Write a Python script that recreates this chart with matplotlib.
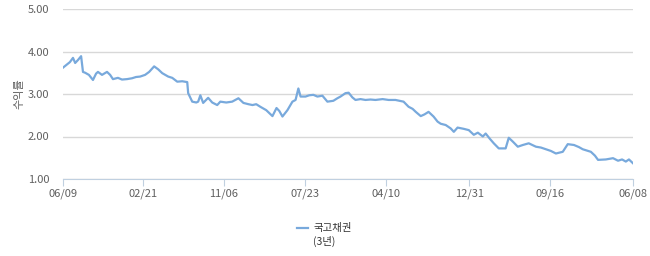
import matplotlib
matplotlib.use("Agg")
import matplotlib.pyplot as plt
import matplotlib.dates as mdates
from matplotlib.lines import Line2D
import pandas as pd

plt.rcParams["font.family"] = ["Noto Sans CJK KR", "DejaVu Sans"]

# 국고채권(3년) yield: days since start and value
start = "2011-06-09"
days = [0, 10, 22, 32, 39, 48, 58, 64, 71, 83, 96, 106, 112, 125, 141, 151,
        160, 176, 189, 205, 221, 234, 247, 263, 276, 286, 292, 305, 318, 337,
        350, 366, 382, 398, 401, 414, 427, 433, 440, 449, 465, 478, 494, 504,
        523, 542, 562, 578, 594, 607, 619, 632, 651, 671, 684, 693, 703, 719,
        735, 745, 754, 761, 777, 789, 802, 815, 831, 847, 866, 879, 889, 905,
        915, 927, 937, 953, 969, 985, 1001, 1024, 1043, 1065, 1091, 1107, 1120,
        1130, 1146, 1158, 1171, 1187, 1200, 1210, 1226, 1242, 1252, 1264, 1284,
        1300, 1316, 1329, 1345, 1354, 1367, 1380, 1396, 1418, 1428, 1441, 1457,
        1473, 1492, 1515, 1531, 1547, 1563, 1579, 1601, 1617, 1637, 1653, 1665,
        1691, 1704, 1714, 1739, 1762, 1778, 1791, 1803, 1813, 1826]
yields = [3.62, 3.68, 3.75, 3.85, 3.73, 3.80, 3.89, 3.52, 3.50, 3.45, 3.33,
          3.48, 3.52, 3.45, 3.52, 3.45, 3.35, 3.38, 3.34, 3.35, 3.37, 3.40,
          3.41, 3.45, 3.52, 3.60, 3.65, 3.58, 3.49, 3.41, 3.38, 3.29, 3.30,
          3.28, 3.02, 2.82, 2.80, 2.82, 2.97, 2.79, 2.91, 2.80, 2.74, 2.82,
          2.80, 2.82, 2.90, 2.79, 2.76, 2.74, 2.76, 2.70, 2.62, 2.48, 2.67,
          2.60, 2.47, 2.62, 2.82, 2.86, 3.13, 2.94, 2.94, 2.97, 2.98, 2.94,
          2.96, 2.82, 2.84, 2.90, 2.94, 3.02, 3.03, 2.92, 2.86, 2.88, 2.86,
          2.87, 2.86, 2.88, 2.86, 2.86, 2.82, 2.70, 2.65, 2.58, 2.48, 2.52,
          2.58, 2.47, 2.35, 2.30, 2.27, 2.19, 2.11, 2.21, 2.18, 2.15, 2.04,
          2.09, 2.00, 2.07, 1.95, 1.84, 1.72, 1.72, 1.97, 1.88, 1.76, 1.80,
          1.84, 1.76, 1.74, 1.70, 1.66, 1.60, 1.64, 1.82, 1.80, 1.75, 1.70,
          1.64, 1.55, 1.45, 1.46, 1.49, 1.43, 1.46, 1.41, 1.46, 1.37]

tick_dates = ["2011-06-09", "2012-02-21", "2012-11-06", "2013-07-23",
              "2014-04-10", "2014-12-31", "2015-09-16", "2016-06-08"]
y_ticks = [1.0, 2.0, 3.0, 4.0, 5.0]


def main():
    dates = pd.Timestamp(start) + pd.to_timedelta(days, unit="D")
    ticks = pd.to_datetime(tick_dates)

    fig = plt.figure(figsize=(6.5, 2.56), dpi=100)
    ax = fig.add_axes([63 / 650, 1 - 179 / 256, 570 / 650, 170 / 256])

    ax.plot(dates, yields, color="#78a9dc", linewidth=1.6)

    ax.set_xlim(dates[0], dates[-1])
    ax.set_ylim(1, 5)
    ax.set_yticks(y_ticks)
    ax.set_yticklabels([f"{v:.2f}" for v in y_ticks])
    ax.set_xticks(ticks)
    ax.xaxis.set_major_formatter(mdates.DateFormatter("%m/%d"))

    ax.grid(axis="y", color="#d8d8d8", linewidth=1)
    ax.set_axisbelow(True)
    for s in ["top", "right", "left"]:
        ax.spines[s].set_visible(False)
    ax.spines["bottom"].set_color("#c0d0e0")
    ax.tick_params(axis="y", length=0, pad=10, labelsize=8, labelcolor="#606060")
    ax.tick_params(axis="x", length=5, color="#c0d0e0", pad=2, labelsize=8,
                   labelcolor="#606060")
    ax.set_ylabel("수익률", fontsize=8, color="#606060", labelpad=2)

    # legend
    fig.add_artist(Line2D([297 / 650, 308 / 650], [1 - 228 / 256, 1 - 228 / 256],
                          color="#78a9dc", linewidth=1.6))
    fig.text(313 / 650, 1 - 228 / 256, "국고채권", fontsize=7.5, color="#333333",
             va="center", ha="left")
    fig.text(313 / 650, 1 - 241 / 256, "(3년)", fontsize=7.5, color="#333333",
             va="center", ha="left")

    fig.savefig("out.png", dpi=100)


if __name__ == "__main__":
    main()
